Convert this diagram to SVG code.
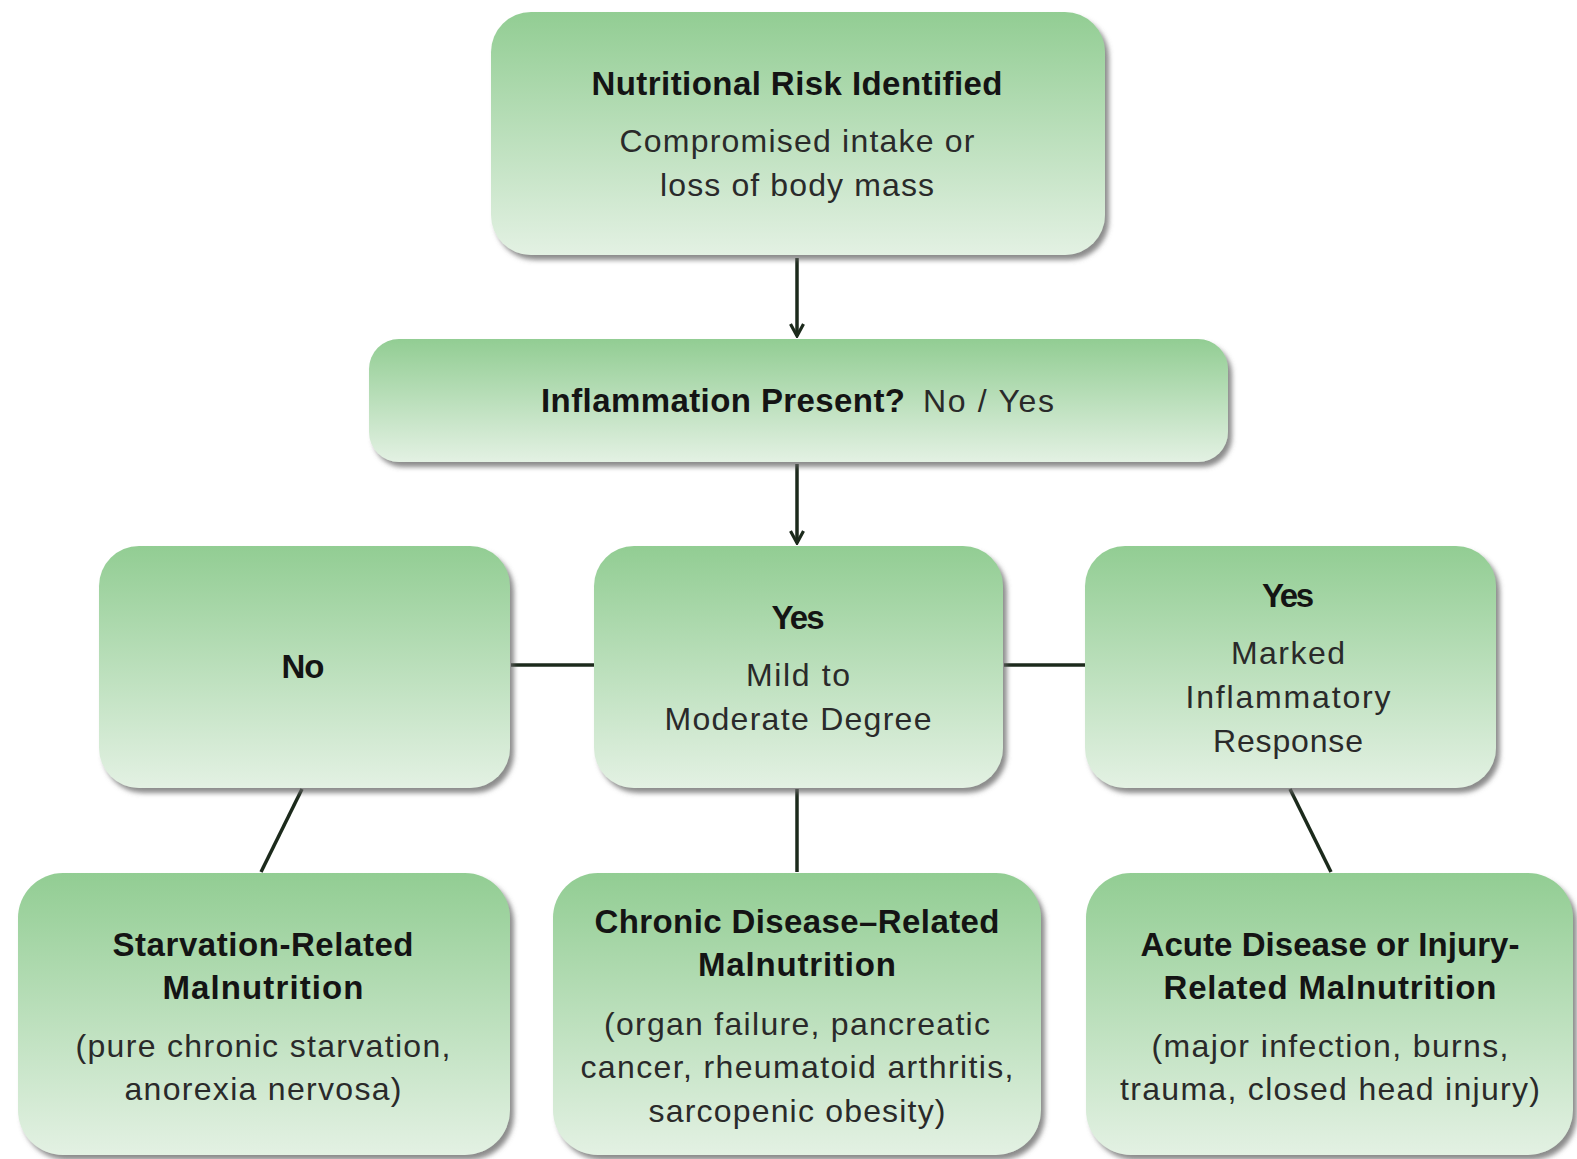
<svg xmlns="http://www.w3.org/2000/svg" width="1577" height="1159" viewBox="0 0 1577 1159">
<defs>
<linearGradient id="g" x1="0" y1="0" x2="0" y2="1">
<stop offset="0" stop-color="#92cd93"/>
<stop offset="1" stop-color="#e3f1e3"/>
</linearGradient>
<filter id="sh" x="-10%" y="-10%" width="125%" height="125%">
<feDropShadow dx="4" dy="5" stdDeviation="2.5" flood-color="#666" flood-opacity="0.75"/>
</filter>
<marker id="ah" viewBox="0 0 16 16" refX="14" refY="8" markerWidth="16" markerHeight="16" markerUnits="userSpaceOnUse" orient="auto">
<path d="M2,1.5 L14,8 L2,14.5" fill="none" stroke="#1c2a1c" stroke-width="3.2"/>
</marker>
</defs>
<style>
.box{fill:url(#g);filter:url(#sh);}
text{font-family:"Liberation Sans",Arial,sans-serif;fill:#141414;text-anchor:middle;}
.b{font-weight:bold;font-size:33px;}
.r{font-size:32px;fill:#2a2a2a;}
.c{stroke:#1c2a1c;stroke-width:3.5;fill:none;}
</style>
<rect width="1577" height="1159" fill="#fff"/>
<g id="connectors">
<line class="c" x1="797" y1="258" x2="797" y2="336" marker-end="url(#ah)"/>
<line class="c" x1="797" y1="464" x2="797" y2="543" marker-end="url(#ah)"/>
<line class="c" x1="511" y1="665" x2="594" y2="665"/>
<line class="c" x1="1004" y1="665" x2="1085" y2="665"/>
<line class="c" x1="302" y1="789" x2="261" y2="872"/>
<line class="c" x1="797" y1="789" x2="797" y2="872"/>
<line class="c" x1="1290" y1="789" x2="1331" y2="872"/>
</g>
<g id="n-risk">
<rect class="box" x="491" y="12" width="614" height="243" rx="40"/>
<text class="b" x="797" y="95" textLength="411">Nutritional Risk Identified</text>
<text class="r" x="797" y="152" textLength="355">Compromised intake or</text>
<text class="r" x="797" y="196" textLength="274">loss of body mass</text>
</g>
<g id="n-inflam">
<rect class="box" x="369" y="339" width="859" height="123" rx="30"/>
<text class="b" x="541" y="412" style="text-anchor:start" textLength="364">Inflammation Present?</text>
<text class="r" x="923" y="412" style="text-anchor:start" textLength="131">No / Yes</text>
</g>
<g id="n-no">
<rect class="box" x="99" y="546" width="411" height="242" rx="40"/>
<text class="b" x="303" y="678" textLength="43">No</text>
</g>
<g id="n-mild">
<rect class="box" x="594" y="546" width="409" height="242" rx="40"/>
<text class="b" x="798" y="629" textLength="53">Yes</text>
<text class="r" x="798" y="686" textLength="104">Mild to</text>
<text class="r" x="798" y="730" textLength="267">Moderate Degree</text>
</g>
<g id="n-marked">
<rect class="box" x="1085" y="546" width="411" height="242" rx="40"/>
<text class="b" x="1288" y="607" textLength="52">Yes</text>
<text class="r" x="1288" y="664" textLength="114">Marked</text>
<text class="r" x="1288" y="708" textLength="205">Inflammatory</text>
<text class="r" x="1288" y="752" textLength="150">Response</text>
</g>
<g id="n-starv">
<rect class="box" x="18" y="873" width="492" height="282" rx="45"/>
<text class="b" x="263" y="956" textLength="301">Starvation-Related</text>
<text class="b" x="263" y="999" textLength="201">Malnutrition</text>
<text class="r" x="263" y="1057" textLength="375">(pure chronic starvation,</text>
<text class="r" x="263" y="1100" textLength="277">anorexia nervosa)</text>
</g>
<g id="n-chronic">
<rect class="box" x="553" y="873" width="488" height="282" rx="45"/>
<text class="b" x="797" y="933" textLength="405">Chronic Disease–Related</text>
<text class="b" x="797" y="976" textLength="198">Malnutrition</text>
<text class="r" x="797" y="1035" textLength="386">(organ failure, pancreatic</text>
<text class="r" x="797" y="1078" textLength="433">cancer, rheumatoid arthritis,</text>
<text class="r" x="797" y="1122" textLength="297">sarcopenic obesity)</text>
</g>
<g id="n-acute">
<rect class="box" x="1086" y="873" width="487" height="282" rx="45"/>
<text class="b" x="1330" y="956" textLength="379">Acute Disease or Injury-</text>
<text class="b" x="1330" y="999" textLength="333">Related Malnutrition</text>
<text class="r" x="1330" y="1057" textLength="357">(major infection, burns,</text>
<text class="r" x="1330" y="1100" textLength="420">trauma, closed head injury)</text>
</g>
</svg>
